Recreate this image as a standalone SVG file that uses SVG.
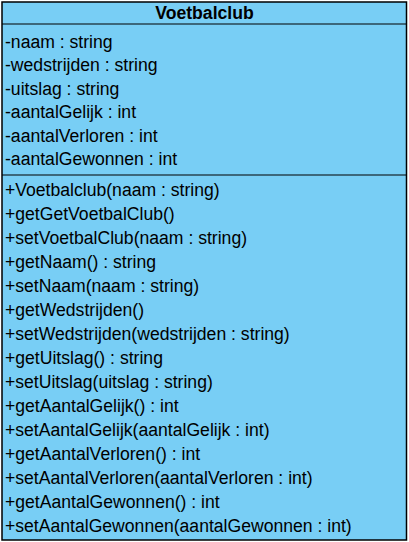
<svg xmlns="http://www.w3.org/2000/svg" width="409" height="542" viewBox="0 0 409 542">
<style>
.t{font-family:"Liberation Sans",Arial,sans-serif;font-size:17.6px;fill:#000}
.h{font-family:"Liberation Sans",Arial,sans-serif;font-size:17.6px;font-weight:bold;fill:#000}
.b{fill:#78CEF5;stroke:#000;stroke-width:1.5}
.l{stroke:#000;stroke-width:1.2}
</style>
<g id="Voetbalclub">
<rect class="b" x="2" y="2" width="404.5" height="538"/>
<line class="l" x1="2" y1="24" x2="406.5" y2="24"/>
<line class="l" x1="2" y1="175" x2="406.5" y2="175"/>
<text class="h" x="204.5" y="19" text-anchor="middle">Voetbalclub</text>
<text class="t" x="5" y="47.5">-naam : string</text>
<text class="t" x="5" y="71">-wedstrijden : string</text>
<text class="t" x="5" y="94.5">-uitslag : string</text>
<text class="t" x="5" y="118">-aantalGelijk : int</text>
<text class="t" x="5" y="141.5">-aantalVerloren : int</text>
<text class="t" x="5" y="165">-aantalGewonnen : int</text>
<text class="t" x="5" y="196">+Voetbalclub(naam : string)</text>
<text class="t" x="5" y="220">+getGetVoetbalClub()</text>
<text class="t" x="5" y="244">+setVoetbalClub(naam : string)</text>
<text class="t" x="5" y="268">+getNaam() : string</text>
<text class="t" x="5" y="292">+setNaam(naam : string)</text>
<text class="t" x="5" y="316">+getWedstrijden()</text>
<text class="t" x="5" y="340">+setWedstrijden(wedstrijden : string)</text>
<text class="t" x="5" y="364">+getUitslag() : string</text>
<text class="t" x="5" y="388">+setUitslag(uitslag : string)</text>
<text class="t" x="5" y="412">+getAantalGelijk() : int</text>
<text class="t" x="5" y="436">+setAantalGelijk(aantalGelijk : int)</text>
<text class="t" x="5" y="460">+getAantalVerloren() : int</text>
<text class="t" x="5" y="484">+setAantalVerloren(aantalVerloren : int)</text>
<text class="t" x="5" y="508">+getAantalGewonnen() : int</text>
<text class="t" x="5" y="532">+setAantalGewonnen(aantalGewonnen : int)</text>
</g>
</svg>
